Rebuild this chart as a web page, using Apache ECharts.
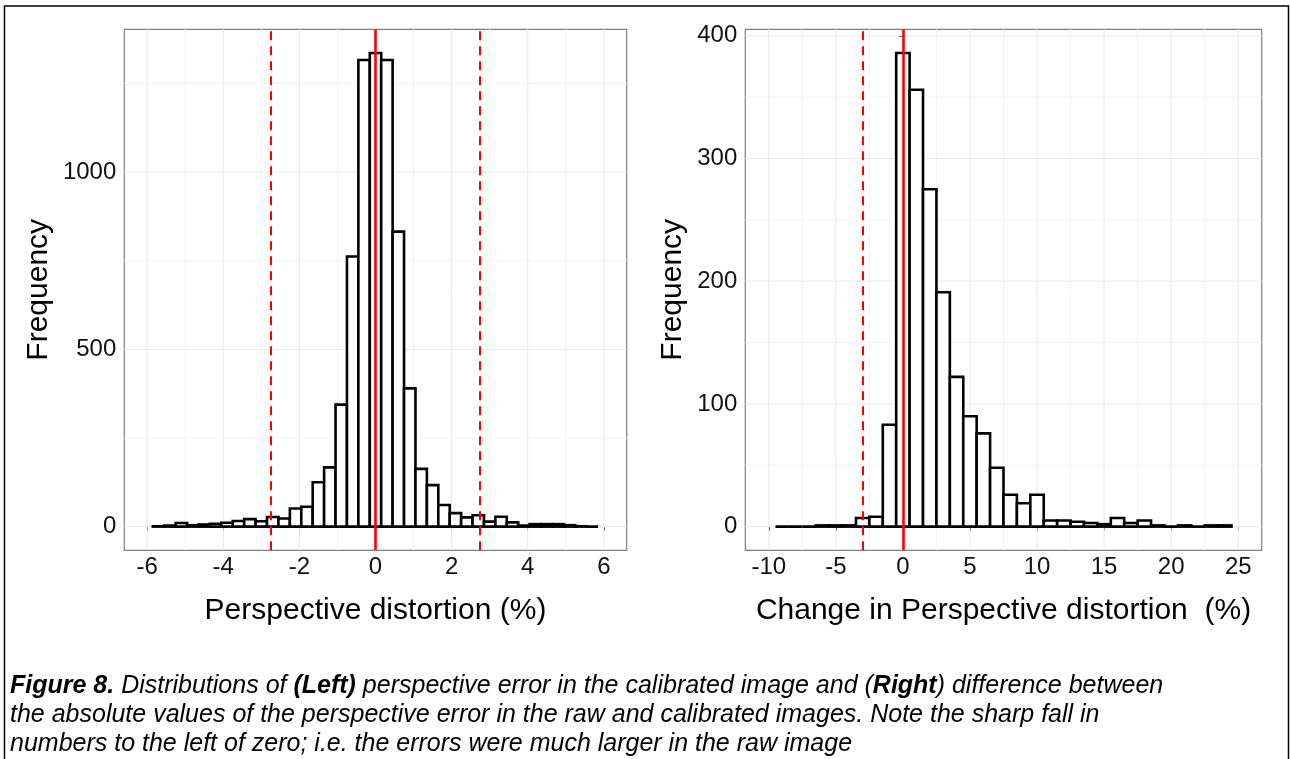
<!DOCTYPE html>
<html>
<head>
<meta charset="utf-8">
<title>Figure 8</title>
<script src="https://cdn.jsdelivr.net/npm/echarts@6/dist/echarts.min.js"></script>
<style>
    html, body { margin: 0; padding: 0; background: #fff; }
    #chart { width: 1290px; height: 759px; }
</style>
</head>
<body>
<div id="chart"></div>
<script>
    "use strict";

    // left panel: perspective distortion, bins of 0.3 centred on -5.7 .. 5.7
    var leftBinWidth = 0.3;
    var leftCenters = [-5.7, -5.4, -5.1, -4.8, -4.5, -4.2, -3.9, -3.6, -3.3, -3.0,
        -2.7, -2.4, -2.1, -1.8, -1.5, -1.2, -0.9, -0.6, -0.3, 0,
        0.3, 0.6, 0.9, 1.2, 1.5, 1.8, 2.1, 2.4, 2.7, 3.0,
        3.3, 3.6, 3.9, 4.2, 4.5, 4.8, 5.1, 5.4, 5.7];
    var leftCounts = [1, 3, 10, 4, 6, 8, 11, 16, 21, 15,
        27, 23, 51, 56, 125, 167, 344, 762, 1316, 1336,
        1316, 832, 390, 163, 117, 61, 38, 26, 32, 14,
        28, 12, 3, 7, 7, 7, 4, 1, 0];
    var leftLines = {solid: [0], dashed: [-2.75, 2.75]};
    var leftXTicks = [-6, -4, -2, 0, 2, 4, 6];
    var leftXMinor = [-5, -3, -1, 1, 3, 5];
    var leftYTicks = [0, 500, 1000];
    var leftYMinor = [250, 750, 1250];

    // right panel: change in perspective distortion, bins of 1 centred on -9 .. 24
    var rightBinWidth = 1;
    var rightCenters = [-9, -8, -7, -6, -5, -4, -3, -2, -1, 0,
        1, 2, 3, 4, 5, 6, 7, 8, 9, 10,
        11, 12, 13, 14, 15, 16, 17, 18, 19, 20,
        21, 22, 23, 24];
    var rightCounts = [0, 0, 0, 1, 1, 1, 7, 8, 83, 386,
        356, 275, 191, 122, 90, 76, 48, 26, 19, 26,
        5, 5, 4, 3, 2, 7, 3, 5, 1, 0,
        1, 0, 1, 1];
    var rightLines = {solid: [0], dashed: [-3]};
    var rightXTicks = [-10, -5, 0, 5, 10, 15, 20, 25];
    var rightXMinor = [-7.5, -2.5, 2.5, 7.5, 12.5, 17.5, 22.5];
    var rightYTicks = [0, 100, 200, 300, 400];
    var rightYMinor = [50, 150, 250, 350];

    var FONT = "'Liberation Sans', Arial, sans-serif";

    function histItem(width) {
        return function (params, api) {
            var x = api.value(0), y = api.value(1);
            var p0 = api.coord([x - width / 2, y]);
            var p1 = api.coord([x + width / 2, 0]);
            return {
                type: "rect",
                shape: {x: p0[0], y: p0[1], width: p1[0] - p0[0], height: p1[1] - p0[1]},
                style: {fill: "#fff", stroke: "#000", lineWidth: 2.6}
            };
        };
    }

    // panel grid lines, one per tick value, across the whole panel
    function gridItem(dim, color) {
        return function (params, api) {
            var cs = params.coordSys;
            var v = api.value(0);
            var shape;
            if (dim === "x") {
                var px = api.coord([v, 0])[0];
                shape = {x1: px, y1: cs.y, x2: px, y2: cs.y + cs.height};
            } else {
                var py = api.coord([0, v])[1];
                shape = {x1: cs.x, y1: py, x2: cs.x + cs.width, y2: py};
            }
            return {type: "line", shape: shape, style: {stroke: color, lineWidth: 1}};
        };
    }

    function gridSeries(grid, dim, values, color) {
        return {
            type: "custom", xAxisIndex: grid, yAxisIndex: grid, silent: true, z: 1,
            renderItem: gridItem(dim, color),
            encode: {x: dim === "x" ? 0 : -1, y: dim === "y" ? 0 : -1},
            data: values.map(function (v) { return [v]; })
        };
    }

    function vlines(lines) {
        var out = [];
        lines.solid.forEach(function (v) {
            out.push({xAxis: v, lineStyle: {type: "solid", width: 2.6}});
        });
        lines.dashed.forEach(function (v) {
            out.push({xAxis: v, lineStyle: {type: [9, 6], width: 2}});
        });
        return out;
    }

    function axis(dim, grid, min, max, ticks, name, gap) {
        var a = {
            type: "value", gridIndex: grid, min: min, max: max,
            axisLine: {show: false},
            axisTick: {show: true, length: 4, customValues: ticks, lineStyle: {color: "#333"}},
            axisLabel: {
                customValues: ticks, margin: dim === "x" ? 5 : 8, color: "#111",
                fontSize: 24, fontFamily: FONT,
                formatter: function (v) { return String(v); }
            },
            splitLine: {show: false},
            name: name, nameLocation: "middle", nameGap: gap,
            nameTextStyle: {fontSize: 30, color: "#000", fontFamily: FONT}
        };
        if (dim === "y") a.nameRotate = 90;
        return a;
    }

    function histSeries(grid, width, centers, counts, lines) {
        return {
            type: "custom", xAxisIndex: grid, yAxisIndex: grid, z: 3,
            renderItem: histItem(width),
            data: centers.map(function (c, i) { return [c, counts[i]]; }),
            markLine: {
                silent: true, symbol: "none", label: {show: false},
                lineStyle: {color: "#ff0000"}, data: vlines(lines)
            }
        };
    }

    var chart = echarts.init(document.getElementById("chart"), null, {renderer: "canvas"});

    var option = {
        animation: false,
        backgroundColor: "#fff",
        grid: [
            {left: 124.3, top: 29.3, width: 502.4, height: 521, show: true,
                borderColor: "#7f7f7f", borderWidth: 1.2, backgroundColor: "transparent"},
            {left: 745.3, top: 29.3, width: 516.4, height: 521, show: true,
                borderColor: "#7f7f7f", borderWidth: 1.2, backgroundColor: "transparent"}
        ],
        xAxis: [
            axis("x", 0, -6.6, 6.6, leftXTicks, "Perspective distortion (%)", 45),
            axis("x", 1, -11.75, 26.75, rightXTicks, "Change in Perspective distortion  (%)", 45)
        ],
        yAxis: [
            axis("y", 0, -66.8, 1402.8, leftYTicks, "Frequency", 71),
            axis("y", 1, -19.3, 405.3, rightYTicks, "Frequency", 58)
        ],
        series: [
            gridSeries(0, "x", leftXMinor, "#f4f4f4"),
            gridSeries(0, "y", leftYMinor, "#f4f4f4"),
            gridSeries(0, "x", leftXTicks, "#e9e9e9"),
            gridSeries(0, "y", leftYTicks, "#e9e9e9"),
            gridSeries(1, "x", rightXMinor, "#f4f4f4"),
            gridSeries(1, "y", rightYMinor, "#f4f4f4"),
            gridSeries(1, "x", rightXTicks, "#e9e9e9"),
            gridSeries(1, "y", rightYTicks, "#e9e9e9"),
            histSeries(0, leftBinWidth, leftCenters, leftCounts, leftLines),
            histSeries(1, rightBinWidth, rightCenters, rightCounts, rightLines)
        ],
        graphic: [
            {
                type: "rect", silent: true,
                shape: {x: 4.5, y: 6, width: 1284, height: 780},
                style: {fill: "none", stroke: "#000", lineWidth: 1.5}
            },
            {
                type: "text", x: 10, y: 672, silent: true,
                style: {
                    text: "{fb|Figure 8.}{i| Distributions of }{b|(Left)}{i| perspective error in the calibrated image and (}{b|Right}{i|) difference between}\n" +
                        "{i|the absolute values of the perspective error in the raw and calibrated images. Note the sharp fall in}\n" +
                        "{i|numbers to the left of zero; i.e. the errors were much larger in the raw image}",
                    fill: "#000",
                    rich: {
                        fb: {fontFamily: FONT, fontSize: 25, fontWeight: "bold", fontStyle: "italic", lineHeight: 29},
                        b: {fontFamily: FONT, fontSize: 25, fontWeight: "bold", fontStyle: "italic", lineHeight: 29},
                        i: {fontFamily: FONT, fontSize: 25, fontStyle: "italic", lineHeight: 29}
                    }
                }
            }
        ]
    };

    chart.setOption(option);
</script>
</body>
</html>
